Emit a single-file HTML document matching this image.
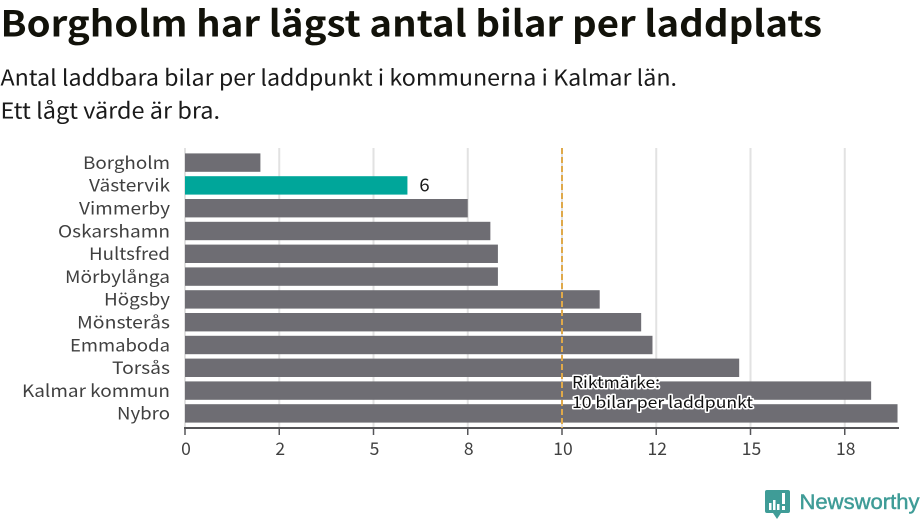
<!DOCTYPE html>
<html lang="sv">
<head>
<meta charset="utf-8">
<title>Borgholm har lägst antal bilar per laddplats</title>
<style>
html,body{margin:0;padding:0;background:#fff;width:920px;height:520px;overflow:hidden}
svg{display:block}
text{font-family:"Noto Sans CJK SC","DejaVu Sans",sans-serif}
</style>
</head>
<body>
<svg id="chart" width="920" height="520" viewBox="0 0 920 520" xmlns="http://www.w3.org/2000/svg">
  <text x="0.5" y="36.5" font-size="36" font-weight="700" fill="#12120a" textLength="821.5" lengthAdjust="spacingAndGlyphs">Borgholm har lägst antal bilar per laddplats</text>
  <text x="0.5" y="85.5" font-size="22" fill="#1a1a1a" textLength="676.5" lengthAdjust="spacingAndGlyphs">Antal laddbara bilar per laddpunkt i kommunerna i Kalmar län.</text>
  <text x="0.5" y="118.5" font-size="22" fill="#1a1a1a" textLength="219.5" lengthAdjust="spacingAndGlyphs">Ett lågt värde är bra.</text>
  <g id="grid"></g>
  <g id="bars"></g>
  <g id="labels"></g>
  <g id="axis"></g>
  <g id="annotation"></g>
  <g>
    <path d="M767 490H788Q790 490 790 492V511Q790 513 788 513H781L777 519L773 513H767Q765 513 765 511V492Q765 490 767 490Z" fill="#3f9c97"/>
    <g fill="#ffffff">
      <rect x="769" y="503" width="2.5" height="7"/>
      <rect x="773" y="500" width="2.5" height="10"/>
      <rect x="777" y="504" width="2.5" height="6"/>
      <rect x="782" y="493" width="3" height="11"/>
      <rect x="782" y="506" width="3" height="4"/>
    </g>
    <text x="799.5" y="509" font-size="21" fill="#3f9c97" stroke="#3f9c97" stroke-width="0.45" textLength="120" lengthAdjust="spacingAndGlyphs" style="font-family:'Liberation Sans',sans-serif">Newsworthy</text>
  </g>
</svg>
<script>
const categories = ["Borgholm","Västervik","Vimmerby","Oskarshamn","Hultsfred","Mörbylånga","Högsby","Mönsterås","Emmaboda","Torsås","Kalmar kommun","Nybro"];
const seriesValues = [2.0,5.9,7.5,8.1,8.3,8.3,11.0,12.1,12.4,14.7,18.2,18.9];
const tickValues = [0,2.5,5,7.5,10,12.5,15,17.5];
const tickLabels = ["0","2","5","8","10","12","15","18"];
const highlightCategory = "Västervik";
const highlightLabel = "6";
const benchmarkValue = 10;
const benchmarkLines = ["Riktmärke:","10 bilar per laddpunkt"];
const labelWidths = [87,81,91,112,81,105,66,93,100,58,148,53];

const NS = "http://www.w3.org/2000/svg";
const X0 = 185, PX_PER_UNIT = 37.7, ROW0 = 151.2, ROW_STEP = 22.8, BAR_H = 18.4;
const TOP = 148, AXIS_Y = 428, AXIS_END = 899;
const x = v => X0 + v * PX_PER_UNIT;
const yCenter = i => ROW0 + ROW_STEP * (i + 0.5);

function make(tag, attrs, parent, txt) {
  const el = document.createElementNS(NS, tag);
  for (const k in attrs) el.setAttribute(k, attrs[k]);
  if (txt !== undefined) el.textContent = txt;
  parent.appendChild(el);
  return el;
}

const grid = document.getElementById("grid");
const barsG = document.getElementById("bars");
const labelsG = document.getElementById("labels");
const axisG = document.getElementById("axis");
const annG = document.getElementById("annotation");

tickValues.forEach((t) => {
  const g = make("line", {x1:x(t), x2:x(t), y1:TOP, y2:AXIS_Y, stroke:"#e2e2e2", "stroke-width":2}, grid);
  
  
});

categories.forEach((c, i) => {
  const v = seriesValues[i];
  const hi = c === highlightCategory;
  const b = make("rect", {x:X0, y:yCenter(i) - BAR_H/2, width:x(v) - X0, height:BAR_H, fill: hi ? "#00a69a" : "#6e6d73"}, barsG);
  
  
  const l = make("text", {x:170, y:yCenter(i) + 6.3, "text-anchor":"end", "font-size":17, fill:"#404040", textLength:labelWidths[i], lengthAdjust:"spacingAndGlyphs"}, labelsG, c);
  
  
  if (hi) {
    const vl = make("text", {x:x(v) + 12, y:yCenter(i) + 6.3, "font-size":18.5, fill:"#1a1a1a"}, barsG, highlightLabel);
    
    
  }
});

const axisLine = make("line", {x1:X0 - 1, x2:AXIS_END, y1:AXIS_Y, y2:AXIS_Y, stroke:"#555558", "stroke-width":2}, axisG);


tickValues.forEach((t, i) => {
  const tk = make("line", {x1:x(t), x2:x(t), y1:AXIS_Y, y2:435, stroke:"#555558", "stroke-width":1.5}, axisG);
  
  
  const tl = make("text", {x:x(t) + 1, y:455, "text-anchor":"middle", "font-size":17.5, fill:"#404040"}, axisG, tickLabels[i]);
  
  
});

const refLine = make("line", {x1:x(benchmarkValue), x2:x(benchmarkValue), y1:TOP, y2:AXIS_Y, stroke:"#dfa94a", "stroke-width":2, "stroke-dasharray":"6 3"}, annG);


const annWidths = [88,181];
benchmarkLines.forEach((s, i) => {
  const attrs = {x:x(benchmarkValue) + 10, y:388 + i * 20, "font-size":16, fill:"#111", textLength:annWidths[i], lengthAdjust:"spacingAndGlyphs"};
  const halo = make("text", Object.assign({}, attrs, {stroke:"#fff", "stroke-width":3, "stroke-linejoin":"round"}), annG, s);
  
  
  const t = make("text", attrs, annG, s);
  
  
});
</script>
</body>
</html>
